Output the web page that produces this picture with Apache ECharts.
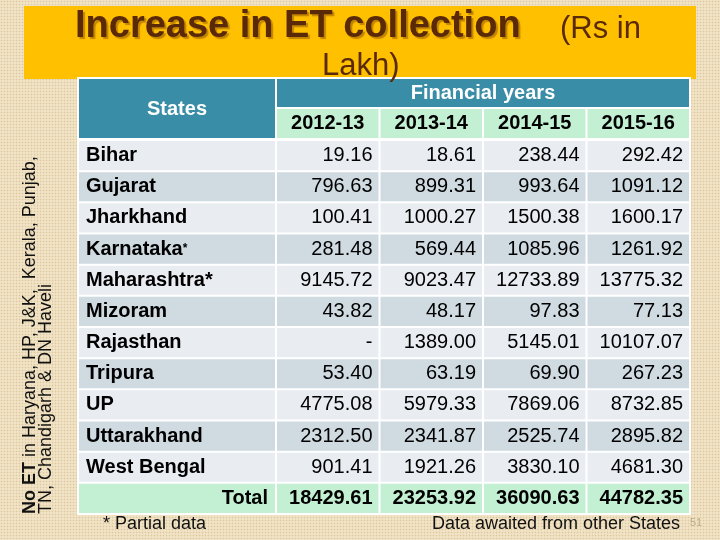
<!DOCTYPE html>
<html><head><meta charset="utf-8">
<script src="https://cdn.jsdelivr.net/npm/echarts@6/dist/echarts.min.js"></script>
<style>
html,body{margin:0;padding:0;}
body{background-color:#F1E3C6;background-image:radial-gradient(rgba(196,166,116,0.45) 0.7px, transparent 1.1px);background-size:3px 3px;}
#chart{width:720px;height:540px;}
</style></head><body><div id="chart"></div>
<script>
const years = ['2012-13', '2013-14', '2014-15', '2015-16'];
const states = ['Bihar', 'Gujarat', 'Jharkhand', 'Karnataka*', 'Maharashtra*', 'Mizoram', 'Rajasthan', 'Tripura', 'UP', 'Uttarakhand', 'West Bengal'];
const fy2012_13 = [19.16, 796.63, 100.41, 281.48, 9145.72, 43.82, null, 53.40, 4775.08, 2312.50, 901.41];
const fy2013_14 = [18.61, 899.31, 1000.27, 569.44, 9023.47, 48.17, 1389.00, 63.19, 5979.33, 2341.87, 1921.26];
const fy2014_15 = [238.44, 993.64, 1500.38, 1085.96, 12733.89, 97.83, 5145.01, 69.90, 7869.06, 2525.74, 3830.10];
const fy2015_16 = [292.42, 1091.12, 1600.17, 1261.92, 13775.32, 77.13, 10107.07, 267.23, 8732.85, 2895.82, 4681.30];
const totals = [18429.61, 23253.92, 36090.63, 44782.35];

const rows = states.concat(['Total']);
const yearValues = [fy2012_13, fy2013_14, fy2014_15, fy2015_16];

const FONT = '"Liberation Sans", Arial, sans-serif';
const LIGHT = '#E9EDF2', DARK = '#CFDAE1', GREEN = '#C3F0D3', TEAL = '#3A8DA6';

const cellData = [], cellText = [];
yearValues.forEach((arr, ci) => {
  arr.concat([totals[ci]]).forEach((v, ri) => {
    cellData.push([ci, ri]);
    cellText.push(v == null ? '-' : v.toFixed(2));
  });
});
const stateData = rows.map((r, i) => [0, i]);
const yearData = years.map((y, i) => [i, 0]);

function rowFill(ri) { return ri === rows.length - 1 ? GREEN : (ri % 2 === 0 ? LIGHT : DARK); }

const chart = echarts.init(document.getElementById('chart'), null, {renderer: 'canvas'});
chart.setOption({
  animation: false,
  backgroundColor: 'transparent',
  grid: [
    {left: 78, top: 140, width: 198, height: 374},
    {left: 276, top: 140, width: 414, height: 374},
    {left: 276, top: 108, width: 414, height: 31}
  ],
  xAxis: [
    {gridIndex: 0, type: 'category', data: ['States'], show: false},
    {gridIndex: 1, type: 'category', data: years, show: false},
    {gridIndex: 2, type: 'category', data: years, show: false}
  ],
  yAxis: [
    {gridIndex: 0, type: 'category', data: rows, inverse: true, show: false},
    {gridIndex: 1, type: 'category', data: rows, inverse: true, show: false},
    {gridIndex: 2, type: 'category', data: ['Financial years'], show: false}
  ],
  graphic: [
    {type: 'rect', z: 0, shape: {x: 24, y: 6, width: 672, height: 73}, style: {fill: '#FFC000'}},
    {type: 'rect', z: 1, shape: {x: 77, y: 77, width: 614, height: 438}, style: {fill: '#FFFFFF'}},
    {type: 'rect', z: 3, shape: {x: 79, y: 79, width: 196, height: 59}, style: {fill: TEAL}},
    {type: 'rect', z: 3, shape: {x: 277, y: 79, width: 412, height: 28}, style: {fill: TEAL}},
    {type: 'text', z: 10, x: 177, y: 109, style: {text: 'States', font: 'bold 20px ' + FONT, fill: '#FFFFFF', align: 'center', verticalAlign: 'middle', textAlign: 'center', textVerticalAlign: 'middle'}},
    {type: 'text', z: 10, x: 483, y: 93, style: {text: 'Financial years', font: 'bold 20px ' + FONT, fill: '#FFFFFF', align: 'center', verticalAlign: 'middle', textAlign: 'center', textVerticalAlign: 'middle'}},
    {type: 'text', z: 10, x: 75, y: 27, style: {text: 'Increase in ET collection', font: 'bold 38px ' + FONT, fill: '#5A2A08', textShadowColor: 'rgba(160,100,0,0.65)', textShadowOffsetX: 2, textShadowOffsetY: 2, textShadowBlur: 1, align: 'left', verticalAlign: 'middle', textAlign: 'left', textVerticalAlign: 'middle'}},
    {type: 'text', z: 10, x: 560, y: 29, style: {text: '(Rs in', font: '31px ' + FONT, fill: '#5A2A08', align: 'left', verticalAlign: 'middle', textAlign: 'left', textVerticalAlign: 'middle'}},
    {type: 'text', z: 10, x: 322, y: 66, style: {text: 'Lakh)', font: '31px ' + FONT, fill: '#5A2A08', align: 'left', verticalAlign: 'middle', textAlign: 'left', textVerticalAlign: 'middle'}},
    {type: 'text', z: 10, x: 30, y: 514, rotation: Math.PI / 2, style: {text: '{b|No ET}{r| in Haryana, HP, J&K,  Kerala, Punjab,}', rich: {b: {font: 'bold 18px ' + FONT, fill: '#111'}, r: {font: '18px ' + FONT, fill: '#111'}}, align: 'left', verticalAlign: 'middle', textAlign: 'left', textVerticalAlign: 'middle'}},
    {type: 'text', z: 10, x: 46, y: 514, rotation: Math.PI / 2, style: {text: 'TN, Chandigarh & DN Haveli', font: '18px ' + FONT, fill: '#111', align: 'left', verticalAlign: 'middle', textAlign: 'left', textVerticalAlign: 'middle'}},
    {type: 'text', z: 10, x: 103, y: 524, style: {text: '* Partial data', font: '18px ' + FONT, fill: '#111', align: 'left', verticalAlign: 'middle', textAlign: 'left', textVerticalAlign: 'middle'}},
    {type: 'text', z: 10, x: 680, y: 524, style: {text: 'Data awaited from other States', font: '18px ' + FONT, fill: '#111', align: 'right', verticalAlign: 'middle', textAlign: 'right', textVerticalAlign: 'middle'}},
    {type: 'text', z: 10, x: 690, y: 523, style: {text: '51', font: '11px ' + FONT, fill: '#BDAA86', align: 'left', verticalAlign: 'middle', textAlign: 'left', textVerticalAlign: 'middle'}}
  ],
  series: [
    {
      type: 'custom', xAxisIndex: 0, yAxisIndex: 0, z: 2, clip: false,
      encode: {x: 0, y: 1}, data: stateData,
      renderItem: function (params, api) {
        const ri = api.value(1);
        const c = api.coord([api.value(0), ri]);
        const s = api.size([1, 1]);
        const x0 = c[0] - s[0] / 2 + 1, y0 = c[1] - s[1] / 2 + 1, w = s[0] - 2, h = s[1] - 2;
        const name = rows[ri];
        const isTotal = ri === rows.length - 1;
        let textStyle;
        if (name === 'Karnataka*') {
          textStyle = {text: '{a|Karnataka}{s|*}', rich: {a: {font: 'bold 20px ' + FONT, fill: '#000'}, s: {font: 'bold 12px ' + FONT, fill: '#000'}}, x: x0 + 7, y: c[1], align: 'left', verticalAlign: 'middle'};
        } else {
          textStyle = {text: name, font: 'bold 20px ' + FONT, fill: '#000', x: isTotal ? x0 + w - 7 : x0 + 7, y: c[1], align: isTotal ? 'right' : 'left', verticalAlign: 'middle'};
        }
        return {type: 'group', children: [
          {type: 'rect', shape: {x: x0, y: y0, width: w, height: h}, style: {fill: rowFill(ri)}},
          {type: 'text', style: textStyle}
        ]};
      }
    },
    {
      type: 'custom', xAxisIndex: 1, yAxisIndex: 1, z: 2, clip: false,
      encode: {x: 0, y: 1}, data: cellData,
      renderItem: function (params, api) {
        const ci = api.value(0), ri = api.value(1);
        const c = api.coord([ci, ri]);
        const s = api.size([1, 1]);
        const x0 = c[0] - s[0] / 2 + 1, y0 = c[1] - s[1] / 2 + 1, w = s[0] - 2, h = s[1] - 2;
        const isTotal = ri === rows.length - 1;
        return {type: 'group', children: [
          {type: 'rect', shape: {x: x0, y: y0, width: w, height: h}, style: {fill: rowFill(ri)}},
          {type: 'text', style: {text: cellText[params.dataIndex], font: (isTotal ? 'bold ' : '') + '20px ' + FONT, fill: '#000', x: x0 + w - 6, y: c[1], align: 'right', verticalAlign: 'middle'}}
        ]};
      }
    },
    {
      type: 'custom', xAxisIndex: 2, yAxisIndex: 2, z: 2, clip: false,
      encode: {x: 0, y: 1}, data: yearData,
      renderItem: function (params, api) {
        const ci = api.value(0);
        const c = api.coord([ci, 0]);
        const s = api.size([1, 1]);
        const x0 = c[0] - s[0] / 2 + 1, y0 = c[1] - s[1] / 2 + 1, w = s[0] - 2, h = s[1] - 2;
        return {type: 'group', children: [
          {type: 'rect', shape: {x: x0, y: y0, width: w, height: h}, style: {fill: GREEN}},
          {type: 'text', style: {text: years[ci], font: 'bold 20px ' + FONT, fill: '#000', x: c[0], y: c[1], align: 'center', verticalAlign: 'middle'}}
        ]};
      }
    }
  ]
});
</script></body></html>
